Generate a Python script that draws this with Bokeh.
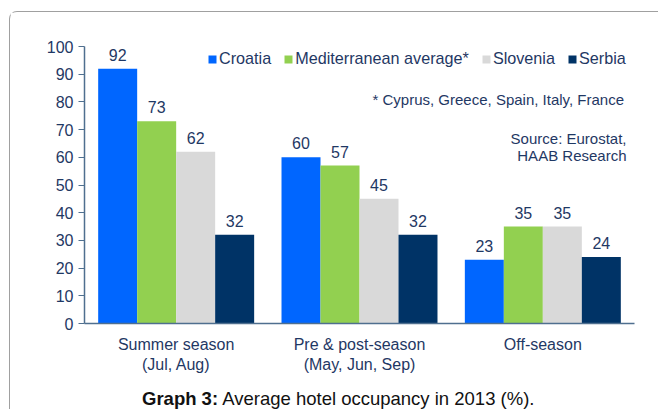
from bokeh.plotting import figure
from bokeh.models import (ColumnDataSource, FactorRange, Range1d, Legend, LegendItem,
                          Label, FixedTicker, Div)
from bokeh.layouts import column
from bokeh.transform import dodge
from bokeh.core.properties import value
from bokeh.embed import file_html
from bokeh.resources import INLINE

seasons = ["Summer season\n(Jul, Aug)", "Pre & post-season\n(May, Jun, Sep)", "Off-season"]
croatia = [92, 60, 23]
mediterranean = [73, 57, 35]
slovenia = [62, 45, 35]
serbia = [32, 32, 24]
series_names = ["Croatia", "Mediterranean average*", "Slovenia", "Serbia"]
y_ticks = [0, 10, 20, 30, 40, 50, 60, 70, 80, 90, 100]

colors = ["#0066FF", "#92D050", "#D9D9D9", "#003366"]
FONT = "Liberation Sans"
TXT = "#1f3864"

src = ColumnDataSource(dict(
    season=seasons,
    croatia=croatia, mediterranean=mediterranean, slovenia=slovenia, serbia=serbia,
    croatia_l=[str(v) for v in croatia],
    mediterranean_l=[str(v) for v in mediterranean],
    slovenia_l=[str(v) for v in slovenia],
    serbia_l=[str(v) for v in serbia],
))

p = figure(width=648, height=369, x_range=FactorRange(*seasons, range_padding=0),
           y_range=Range1d(0, 293 / 2.77), output_backend="svg", toolbar_location=None,
           min_border_left=74, min_border_right=24, min_border_top=18, min_border_bottom=58)
p.outline_line_color = None
p.grid.grid_line_color = None
p.background_fill_color = "white"
p.border_fill_color = "white"

bw = 0.2127
offsets = [-1.5 * bw, -0.5 * bw, 0.5 * bw, 1.5 * bw]
fields = ["croatia", "mediterranean", "slovenia", "serbia"]
items = []
for f, off, c, name in zip(fields, offsets, colors, series_names):
    r = p.vbar(x=dodge("season", off, range=p.x_range), top=f, width=bw, source=src,
               fill_color=c, line_color=None)
    items.append(LegendItem(label=name, renderers=[r]))
    p.text(x=dodge("season", off, range=p.x_range), y=f, text=f + "_l", source=src,
           text_align="center", text_baseline="bottom", y_offset=-8,
           text_font=value(FONT), text_font_size="16px", text_color=TXT)

legend = Legend(items=items, orientation="horizontal", location=(123, 255),
                glyph_width=10, glyph_height=10, label_standoff=2, spacing=12,
                padding=0, margin=0, border_line_color=None, background_fill_alpha=0,
                label_text_font=FONT, label_text_font_size="16.2px", label_text_color=TXT,
                label_height=12)
p.add_layout(legend, "center")

# axes
axc = "#4f6f8f"
p.yaxis.bounds = (0, 100)
p.yaxis.ticker = FixedTicker(ticks=y_ticks)
p.yaxis.minor_tick_line_color = None
p.yaxis.major_tick_in = 0
p.yaxis.major_tick_out = 6
p.yaxis.axis_line_color = axc
p.yaxis.major_tick_line_color = axc
p.yaxis.axis_line_width = 1.5
p.yaxis.major_label_text_font = FONT
p.yaxis.major_label_text_font_size = "16px"
p.yaxis.major_label_text_color = TXT
p.yaxis.major_label_standoff = 5

p.xaxis.axis_line_color = axc
p.xaxis.axis_line_width = 1.5
p.xaxis.major_tick_line_color = None
p.xaxis.minor_tick_line_color = None
p.xaxis.major_label_text_font = FONT
p.xaxis.major_label_text_font_size = "16px"
p.xaxis.major_label_text_color = TXT
p.xaxis.major_label_standoff = 6

# annotations (screen units: relative to frame bottom-left, y up)
p.add_layout(Label(x=288, y=224, x_units="screen", y_units="screen",
                   text="* Cyprus, Greece, Spain, Italy, France", text_baseline="middle",
                   text_font=FONT, text_font_size="15px", text_color=TXT))
p.add_layout(Label(x=542, y=185, x_units="screen", y_units="screen",
                   text="Source: Eurostat,", text_baseline="middle", text_align="right",
                   text_font=FONT, text_font_size="15px", text_color=TXT))
p.add_layout(Label(x=542, y=168, x_units="screen", y_units="screen",
                   text="HAAB Research", text_baseline="middle", text_align="right",
                   text_font=FONT, text_font_size="15px", text_color=TXT))

caption = Div(text="<b>Graph 3:</b> Average hotel occupancy in 2013 (%).",
              width=648, height=28,
              styles={"font-family": "'Liberation Sans', Arial, sans-serif",
                      "font-size": "18.5px", "line-height": "21px", "color": "#111111",
                      "padding-left": "127px", "padding-top": "2px",
                      "box-sizing": "border-box", "white-space": "nowrap"})

layout = column(p, caption, margin=(11, 0, 0, 9), spacing=0,
                styles={"border-top": "1px solid #a0a0a0", "border-left": "1px solid #a0a0a0",
                        "border-top-left-radius": "8px", "background-color": "white"})

open("out.html", "w").write(file_html(layout, INLINE))
